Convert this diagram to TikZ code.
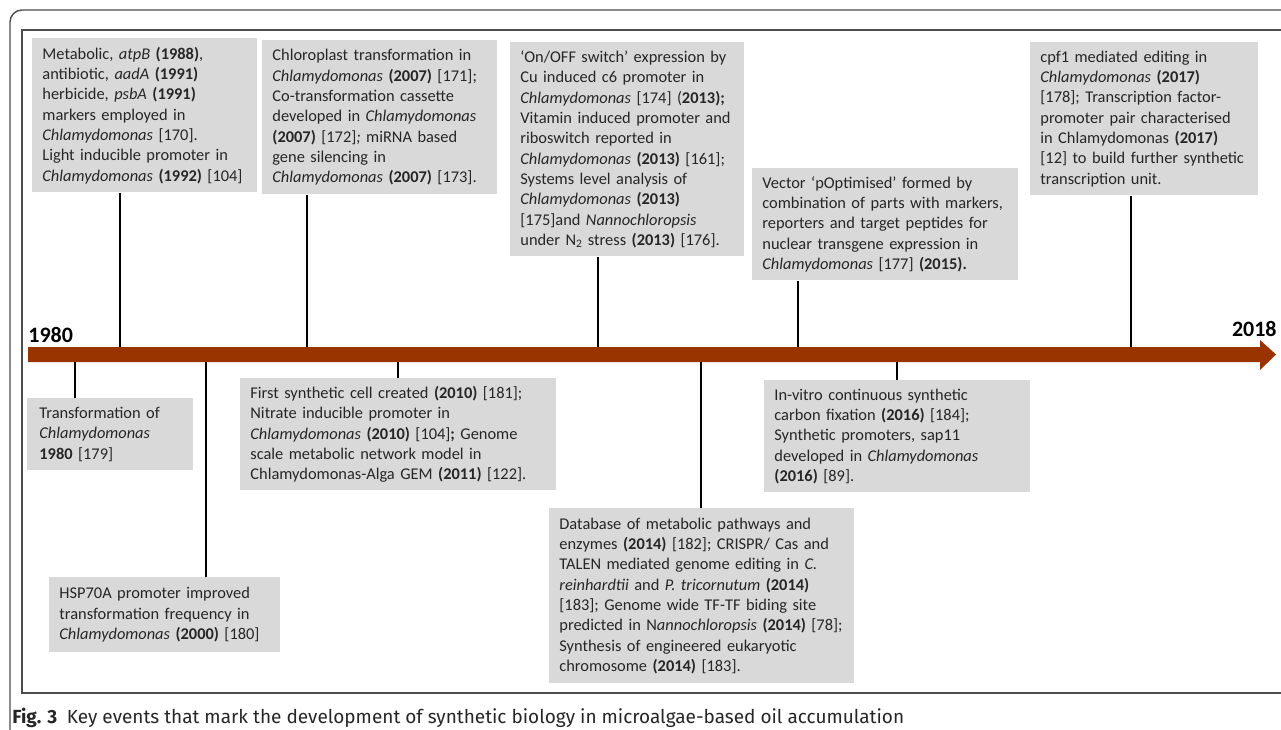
\documentclass[tikz,border=0pt]{standalone}
\usepackage{fontspec}
\setmainfont{Carlito}
\newfontfamily\capfont{Fira Sans}
\usepackage{tikz}
\usetikzlibrary{
    positioning,
    calc
}
\definecolor{boxgray}{HTML}{D9D9D9}
\definecolor{txtgray}{HTML}{262626}
\definecolor{axisbrown}{HTML}{993300}
\definecolor{framegray}{HTML}{4D4D4D}
\newcommand{\evtfont}{\fontsize{16.4}{20.3}\selectfont}

\begin{document}
\begin{tikzpicture}[x=1pt,y=-1pt,thick,
event node/.style={fill=boxgray,anchor=north west,inner xsep=10pt,inner ysep=0pt,align=left,font=\evtfont,text=txtgray},
year node/.style={font=\fontsize{22}{24}\selectfont\bfseries,text=black,inner sep=0pt},
stem line/.style={black,line width=1.6pt}]

\useasboundingbox (0,0) rectangle (1281,730);

%Frame
\draw[framegray,line width=1.4pt,rounded corners=12pt] (10,740) -- (10,10) -- (1295,10);
\draw[framegray,line width=1.6pt] (1290,30) -- (22,30) -- (22,693) -- (1290,693);

%Axis
\fill[axisbrown] (28,347) -- (1260,347) -- (1260,340) -- (1276,354.5) -- (1260,370)
                 -- (1260,362) -- (28,362) -- cycle;
\node[year node,anchor=base west] (y1980) at (28,342) {1980};
\node[year node,anchor=base east] (y2018) at (1277,336) {2018};

\coordinate (a1988) at (120,347);
\coordinate (a2007) at (307,347);
\coordinate (a2013) at (598,347);
\coordinate (a2015) at (798,347);
\coordinate (a2017) at (1131,347);
\coordinate (b1980) at (75,362);
\coordinate (b2000) at (206,362);
\coordinate (b2010) at (398,362);
\coordinate (b2014) at (701,362);
\coordinate (b2016) at (897,362);

%Above the axis
\node[event node,text width=205pt,minimum height=154pt] (m1988) at (32,38)
{Metabolic, \textit{atpB} \textbf{(1988)},\\
antibiotic, \textit{aadA} \textbf{(1991)}\\
herbicide, \textit{psbA} \textbf{(1991)}\\
markers employed in\\
\textit{Chlamydomonas} [170].\\
Light inducible promoter in\\
\textit{Chlamydomonas} \textbf{(1992)} [104]};

\node[event node,text width=215pt,minimum height=154pt] (c2007) at (262,40)
{Chloroplast transformation in\\
\textit{Chlamydomonas} \textbf{(2007)} [171];\\
Co-transformation cassette\\
developed in \textit{Chlamydomonas}\\
\textbf{(2007)} [172]\textit{;} miRNA based\\
gene silencing in\\
\textit{Chlamydomonas} \textbf{(2007)} [173].};

\node[event node,text width=214pt,minimum height=214pt] (s2013) at (510,42)
{‘On/OFF switch’ expression by\\
Cu induced c6 promoter in\\
\textit{Chlamydomonas} [174] (\textbf{2013);}\\
Vitamin induced promoter and\\
riboswitch reported in\\
\textit{Chlamydomonas} \textbf{(2013)} [161];\\
Systems level analysis of\\
\textit{Chlamydomonas} \textbf{(2013)}\\
{[}175]and \textit{Nannochloropsis}\\
under N\textsubscript{2} stress \textbf{(2013)} [176].};

\node[event node,text width=246pt,minimum height=112pt] (v2015) at (752,168)
{Vector ‘pOptimised’ formed by\\
combination of parts with markers,\\
reporters and target peptides for\\
nuclear transgene expression in\\
\textit{Chlamydomonas} [177] \textbf{(2015).}};

\node[event node,text width=208pt,minimum height=153pt] (c2017) at (1030,42)
{cpf1 mediated editing in\\
\textit{Chlamydomonas} \textbf{(2017)}\\
{[}178]; Transcription factor-\\
promoter pair characterised\\
in Chlamydomonas \textbf{(2017)}\\
{[}12] to build further synthetic\\
transcription unit.};

%Below the axis
\node[event node,inner xsep=12pt,text width=142pt,minimum height=72pt] (t1980) at (27,398)
{Transformation of\\
\textit{Chlamydomonas}\\
\textbf{1980} [179]};

\node[event node,text width=211pt,minimum height=75pt] (h2000) at (49,577)
{HSP70A promoter improved\\
transformation frequency in\\
\textit{Chlamydomonas} \textbf{(2000)} [180]};

\node[event node,text width=296pt,minimum height=112pt] (f2010) at (240,378)
{First synthetic cell created \textbf{(2010)} [181];\\
Nitrate inducible promoter in\\
\textit{Chlamydomonas} \textbf{(2010)} [104]\textbf{;} Genome\\
scale metabolic network model in\\
Chlamydomonas-Alga GEM \textbf{(2011)} [122].};

\node[event node,text width=285pt,minimum height=175pt] (d2014) at (549,508)
{Database of metabolic pathways and\\
enzymes \textbf{(2014)} [182]; CRISPR/ Cas and\\
TALEN mediated genome editing in \textit{C.}\\
\textit{reinhardtii} and \textit{P. tricornutum} \textbf{(2014)}\\
{[}183]; Genome wide TF-TF biding site\\
predicted in N\textit{annochloropsis} \textbf{(2014)} [78];\\
Synthesis of engineered eukaryotic\\
chromosome \textbf{(2014)} [183].};

\node[event node,text width=246pt,minimum height=112pt] (i2016) at (764,380)
{In-vitro continuous synthetic\\
carbon fixation \textbf{(2016)} [184];\\
Synthetic promoters, sap11\\
developed in \textit{Chlamydomonas}\\
\textbf{(2016)} [89].};

%Stems
\path[stem line]
(m1988.south -| a1988) edge (a1988)
(c2007.south -| a2007) edge (a2007)
(s2013.south -| a2013) edge (a2013)
(v2015.south -| a2015) edge (a2015)
(c2017.south -| a2017) edge (a2017)
(t1980.north -| b1980) edge (b1980)
(h2000.north -| b2000) edge (b2000)
(f2010.north -| b2010) edge (b2010)
(d2014.north -| b2014) edge (b2014)
(i2016.north -| b2016) edge (b2016)
;

%Caption
\node[anchor=base west,inner sep=0pt,font=\capfont\fontsize{19}{22}\selectfont,text=txtgray] (cap) at (12,723)
{\textbf{Fig. 3}\enspace Key events that mark the development of synthetic biology in microalgae-based oil accumulation};
\end{tikzpicture}
\end{document}
